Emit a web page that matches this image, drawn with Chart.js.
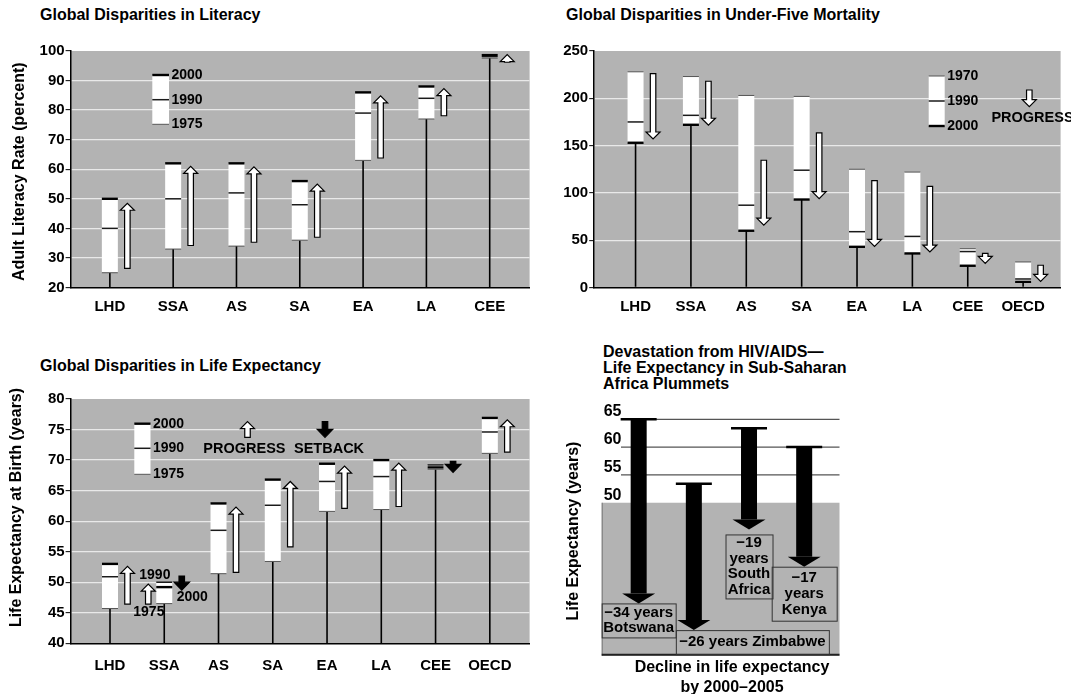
<!DOCTYPE html>
<html>
<head>
<meta charset="utf-8">
<script src="https://cdn.jsdelivr.net/npm/chart.js@4.4.1/dist/chart.umd.min.js"></script>
<style>
  html, body { margin:0; padding:0; background:#fff; }
  body { width:1071px; height:694px; position:relative; overflow:hidden; font-family:"Liberation Sans", Arial, sans-serif; }
  .pane { position:absolute; }
  .pane canvas { display:block; }
  .ttl { position:absolute; font-weight:bold; font-size:16px; line-height:16px; color:#000; white-space:nowrap; }
</style>
</head>
<body>
<div class="ttl" style="left:40px;top:7px">Global Disparities in Literacy</div>
<div class="ttl" style="left:566px;top:7px">Global Disparities in Under-Five Mortality</div>
<div class="ttl" style="left:40px;top:358px">Global Disparities in Life Expectancy</div>
<div class="ttl" style="left:603px;top:344px">Devastation from HIV/AIDS—<br>Life Expectancy in Sub-Saharan<br>Africa Plummets</div>

<div class="pane" id="p1" style="left:0px;top:40px;width:540px;height:280px"><canvas id="c1"></canvas></div>
<div class="pane" id="p2" style="left:540px;top:40px;width:531px;height:280px"><canvas id="c2"></canvas></div>
<div class="pane" id="p3" style="left:0px;top:385px;width:540px;height:309px"><canvas id="c3"></canvas></div>
<div class="pane" id="p4" style="left:560px;top:395px;width:300px;height:299px"><canvas id="c4"></canvas></div>

<script>
// ================= DATA =================
// Literacy (percent)
const litCategories = ['LHD', 'SSA', 'AS', 'SA', 'EA', 'LA', 'CEE'];
const lit1975 = [25, 33, 34, 36, 63, 77, 97.6];
const lit1990 = [40, 50, 52, 48, 79, 84, 98.1];
const lit2000 = [50, 62, 62, 56, 86, 88, 98.6];
const litArrowFrom = [26.5, 34.2, 35.3, 37, 63.8, 78.1, 96.2];
const litArrowTo   = [48.5, 61, 60.8, 55, 84.8, 87.3, 98.8];
const litTicks = [20, 30, 40, 50, 60, 70, 80, 90, 100];

// Under-five mortality (per 1,000)
const mortCategories = ['LHD', 'SSA', 'AS', 'SA', 'EA', 'LA', 'CEE', 'OECD'];
const mort1970 = [228, 223, 203, 202, 125, 122, 41, 27];
const mort1990 = [175, 182, 87, 124, 59, 54, 38, 9];
const mort2000 = [153, 172, 60, 93, 43, 36, 23, 6];
const mortArrowFrom = [226, 218, 134.5, 163.5, 113, 107, 36, 23.5];
const mortArrowTo   = [157, 171.5, 66, 94, 43.5, 37.5, 25.5, 6.5];
const mortTicks = [0, 50, 100, 150, 200, 250];

// Life expectancy at birth (years)
const lifeCategories = ['LHD', 'SSA', 'AS', 'SA', 'EA', 'LA', 'CEE', 'OECD'];
const life1975 = [45.7, 46.5, 51.4, 53.4, 61.6, 61.9, 68.5, 71.1];
const life1990 = [50.9, 50.0, 58.5, 62.6, 66.5, 67.3, 69.2, 74.6];
const life2000 = [53.0, 49.2, 62.9, 66.8, 69.4, 70.0, 68.8, 76.9];
const lifeArrowFrom = [46.4, 51.0, 51.6, 55.8, 62.1, 62.4, 69.8, 71.3];
const lifeArrowTo   = [52.6, 48.7, 62.3, 66.5, 69.0, 69.5, 68.0, 76.6];
const lifeExtraArrowCat  = ['SSA'];
const lifeExtraArrowFrom = [46.4];
const lifeExtraArrowTo   = [49.7];
const lifeTicks = [40, 45, 50, 55, 60, 65, 70, 75, 80];

// HIV/AIDS: life expectancy decline
const hivCountries = ['Botswana', 'Zimbabwe', 'South Africa', 'Kenya'];
const hivStart = [65, 53.4, 63.4, 60];
const hivEnd   = [31.9, 27.1, 45.2, 38.5];
const hivDecline = [34, 26, 19, 17];
const hivTicks = [50, 55, 60, 65];

// ================= STYLE / HELPERS =================
const FAM = '"Liberation Sans", Arial, sans-serif';
Chart.defaults.font.family = FAM;
Chart.defaults.font.weight = 'bold';
Chart.defaults.color = '#000';
Chart.defaults.animation = false;
Chart.defaults.events = [];
Chart.defaults.plugins.legend.display = false;
Chart.defaults.plugins.tooltip.enabled = false;

const GRAY = '#b3b3b3';
const GRID = '#e9e9e9';
const THIN = {c: '#555', w: 1};
const MID = {c: '#1a1a1a', w: 1.5};
const THICK = {c: '#000', w: 2.4};

function txt(ctx, s, x, y, size, align, rot) {
  ctx.save();
  ctx.font = 'bold ' + size + 'px ' + FAM;
  ctx.fillStyle = '#000';
  ctx.textAlign = align || 'left';
  ctx.textBaseline = 'middle';
  ctx.translate(x, y);
  if (rot) ctx.rotate(rot);
  ctx.fillText(s, 0, 0);
  ctx.restore();
}
function hline(ctx, x0, x1, y, st) {
  ctx.save(); ctx.strokeStyle = st.c; ctx.lineWidth = st.w;
  ctx.beginPath(); ctx.moveTo(x0, y); ctx.lineTo(x1, y); ctx.stroke(); ctx.restore();
}
function arrow(ctx, x, yFrom, yTo, fill, sw, hw, hl) {
  const dir = yTo < yFrom ? -1 : 1;
  const h = Math.min(hl, Math.abs(yTo - yFrom));
  const yb = yTo - dir * h;
  ctx.save();
  ctx.beginPath();
  ctx.moveTo(x - sw / 2, yFrom);
  ctx.lineTo(x - sw / 2, yb);
  ctx.lineTo(x - hw / 2, yb);
  ctx.lineTo(x, yTo);
  ctx.lineTo(x + hw / 2, yb);
  ctx.lineTo(x + sw / 2, yb);
  ctx.lineTo(x + sw / 2, yFrom);
  ctx.closePath();
  ctx.fillStyle = fill; ctx.fill();
  ctx.strokeStyle = '#000'; ctx.lineWidth = 1.2; ctx.lineJoin = 'miter'; ctx.stroke();
  ctx.restore();
}
function whiteArrow(ctx, x, y0, y1) { arrow(ctx, x, y0, y1, '#fff', 5.5, 14, 7); }
function blackArrow(ctx, x, y0, y1) { arrow(ctx, x, y0, y1, '#000', 5.5, 15.5, 8); }

function legendBox(ctx, x0, x1, items) {
  const ys = items.map(it => it.y);
  const top = Math.min(...ys), bot = Math.max(...ys);
  ctx.save(); ctx.fillStyle = '#fff'; ctx.fillRect(x0, top, x1 - x0, bot - top); ctx.restore();
  items.forEach(it => {
    hline(ctx, x0, x1, it.y, it.st);
    txt(ctx, it.label, x1 + 2.5, it.y, 14, 'left');
  });
}

function makeBoxChart(o) {
  const pane = document.getElementById(o.pane);
  const off = {x: pane.offsetLeft, y: pane.offsetTop};
  const lo = o.cats.map((c, i) => Math.min(o.a[i], o.b[i], o.c[i]));
  const hi = o.cats.map((c, i) => Math.max(o.a[i], o.b[i], o.c[i]));
  const pts = arr => o.cats.map((c, i) => ({x: i, y: arr[i]}));
  const yearLine = (arr, st, order) => ({
    type: 'scatter', data: pts(arr), pointStyle: 'line', pointRadius: 8,
    borderColor: st.c, backgroundColor: st.c, borderWidth: st.w, order: order, clip: false
  });
  const tickFont = {size: 15, weight: 'bold', family: FAM};
  return new Chart(document.getElementById(o.canvas), {
    type: 'bar',
    data: {
      datasets: [
        {type: 'bar', data: o.cats.map((c, i) => ({x: i, y: [o.yMin, lo[i]]})),
         backgroundColor: '#000', maxBarThickness: 1.6, grouped: false, order: 5},
        {type: 'bar', data: o.cats.map((c, i) => ({x: i, y: [lo[i], hi[i]]})),
         backgroundColor: '#fff', maxBarThickness: 16, grouped: false, order: 4},
        yearLine(o.a, THIN, 3),
        yearLine(o.b, MID, 2),
        yearLine(o.c, THICK, 1)
      ]
    },
    options: {
      responsive: true, maintainAspectRatio: false,
      layout: {padding: {top: o.padTop, left: 0, right: 0, bottom: 0}},
      scales: {
        x: {
          type: 'linear', min: o.xMin, max: o.xMax, offset: false,
          afterBuildTicks: s => { s.ticks = o.cats.map((c, i) => ({value: i})); },
          afterFit: s => { s.height = o.xH; },
          ticks: {callback: v => o.cats[v], font: tickFont, color: '#000', padding: o.xPad,
                  maxRotation: 0, autoSkip: false},
          grid: {display: false, drawTicks: false, offset: false},
          border: {display: true, color: '#000', width: 1.5}
        },
        y: {
          type: 'linear', min: o.yMin, max: o.yMax,
          afterBuildTicks: s => { s.ticks = o.ticks.map(v => ({value: v})); },
          afterFit: s => { s.width = o.yW; },
          ticks: {font: tickFont, color: '#000', padding: 1},
          grid: {
            color: c => (c.tick && (c.tick.value === o.yMax || c.tick.value === o.yMin)) ? 'rgba(0,0,0,0)' : GRID,
            lineWidth: 1.3, drawTicks: true, tickLength: 5, tickColor: '#000', tickWidth: 1
          },
          border: {display: true, color: '#000', width: 1.5}
        }
      }
    },
    plugins: [{
      id: 'deco_' + o.canvas,
      beforeDraw(chart) {
        const a = chart.chartArea, ctx = chart.ctx;
        ctx.save(); ctx.fillStyle = GRAY; ctx.fillRect(a.left, a.top, a.right - a.left, a.bottom - a.top); ctx.restore();
      },
      afterDatasetsDraw(chart) {
        const ctx = chart.ctx, xs = chart.scales.x, ys = chart.scales.y;
        o.cats.forEach((c, i) => {
          const x = xs.getPixelForValue(i) + 17.5;
          const y0 = ys.getPixelForValue(o.arrFrom[i]), y1 = ys.getPixelForValue(o.arrTo[i]);
          const good = (o.arrTo[i] > o.arrFrom[i]) === o.goodUp;
          if (good) whiteArrow(ctx, x, y0, y1); else blackArrow(ctx, x, y0, y1);
        });
        if (o.extraCats) {
          o.extraCats.forEach((c, k) => {
            const i = o.cats.indexOf(c);
            const x = xs.getPixelForValue(i) - 16;
            whiteArrow(ctx, x, ys.getPixelForValue(o.extraFrom[k]), ys.getPixelForValue(o.extraTo[k]));
          });
        }
      },
      afterDraw(chart) { o.extra(chart.ctx, off, chart); }
    }]
  });
}

// ================= PANEL 1: Literacy =================
makeBoxChart({
  pane: 'p1', canvas: 'c1', cats: litCategories, a: lit1975, b: lit1990, c: lit2000,
  arrFrom: litArrowFrom, arrTo: litArrowTo, goodUp: true,
  yMin: 20, yMax: 100, ticks: litTicks, xMin: -0.62, xMax: 6.63,
  yW: 70.6, padTop: 11, xH: 32.5, xPad: 10.2,
  extra(ctx, off) {
    const P = (x, y) => [x - off.x, y - off.y];
    legendBox(ctx, 152.3 - off.x, 169 - off.x, [
      {y: 75 - off.y, label: '2000', st: THICK},
      {y: 99.7 - off.y, label: '1990', st: MID},
      {y: 124.3 - off.y, label: '1975', st: THIN}
    ]);
    const t = P(19.6, 171.7);
    txt(ctx, 'Adult Literacy Rate (percent)', t[0], t[1], 16, 'center', -Math.PI / 2);
  }
});

// ================= PANEL 2: Under-five mortality =================
makeBoxChart({
  pane: 'p2', canvas: 'c2', cats: mortCategories, a: mort1970, b: mort1990, c: mort2000,
  arrFrom: mortArrowFrom, arrTo: mortArrowTo, goodUp: false,
  yMin: 0, yMax: 250, ticks: mortTicks, xMin: -0.747, xMax: 7.677,
  yW: 54.2, padTop: 11, xH: 32.5, xPad: 10.2,
  extra(ctx, off) {
    legendBox(ctx, 928.7 - off.x, 944.7 - off.x, [
      {y: 76 - off.y, label: '1970', st: THIN},
      {y: 101 - off.y, label: '1990', st: MID},
      {y: 126 - off.y, label: '2000', st: THICK}
    ]);
    txt(ctx, 'PROGRESS', 991.4 - off.x, 117.7 - off.y, 14.5, 'left');
    whiteArrow(ctx, 1029.3 - off.x, 90 - off.y, 106.7 - off.y);
  }
});

// ================= PANEL 3: Life expectancy =================
makeBoxChart({
  pane: 'p3', canvas: 'c3', cats: lifeCategories, a: life1975, b: life1990, c: life2000,
  arrFrom: lifeArrowFrom, arrTo: lifeArrowTo, goodUp: true,
  extraCats: lifeExtraArrowCat, extraFrom: lifeExtraArrowFrom, extraTo: lifeExtraArrowTo,
  yMin: 40, yMax: 80, ticks: lifeTicks, xMin: -0.726, xMax: 7.733,
  yW: 70.6, padTop: 14, xH: 50.7, xPad: 13.7,
  extra(ctx, off) {
    legendBox(ctx, 134.3 - off.x, 150.5 - off.x, [
      {y: 423.7 - off.y, label: '2000', st: THICK},
      {y: 448.3 - off.y, label: '1990', st: MID},
      {y: 474.3 - off.y, label: '1975', st: THIN}
    ]);
    txt(ctx, 'PROGRESS', 203.3 - off.x, 449 - off.y, 14.5, 'left');
    whiteArrow(ctx, 247.5 - off.x, 437.3 - off.y, 421.7 - off.y);
    txt(ctx, 'SETBACK', 294 - off.x, 449 - off.y, 14.5, 'left');
    blackArrow(ctx, 325 - off.x, 421.7 - off.y, 437.3 - off.y);
    txt(ctx, '1990', 139.3 - off.x, 575 - off.y, 14, 'left');
    txt(ctx, '2000', 176.7 - off.x, 596.7 - off.y, 14, 'left');
    txt(ctx, '1975', 133.3 - off.x, 612.3 - off.y, 14, 'left');
    txt(ctx, 'Life Expectancy at Birth (years)', 16.4 - off.x, 507.5 - off.y, 16, 'center', -Math.PI / 2);
  }
});

// ================= PANEL 4: HIV/AIDS =================
(function () {
  const pane = document.getElementById('p4');
  const off = {x: pane.offsetLeft, y: pane.offsetTop};
  const labelLines = [
    ['\u2212' + hivDecline[0] + ' years', hivCountries[0]],
    ['\u2212' + hivDecline[1] + ' years ' + hivCountries[1]],
    ['\u2212' + hivDecline[2], 'years', 'South', 'Africa'],
    ['\u2212' + hivDecline[3], 'years', hivCountries[3]]
  ];
  // label box layout (px): width, height, gap below tip, horizontal anchor
  const boxW = [74, 153, 47, 65];
  const boxH = [34, 24, 64, 54];
  const boxGap = [0, 0, 5, 0];
  const boxLeftAnchor = [false, true, false, false];

  new Chart(document.getElementById('c4'), {
    type: 'scatter',
    data: {
      datasets: [{
        data: hivCountries.map((c, i) => ({x: i, y: hivStart[i]})),
        pointStyle: 'line', pointRadius: 18, borderColor: '#000', backgroundColor: '#000',
        borderWidth: 2.5, clip: false
      }]
    },
    options: {
      responsive: true, maintainAspectRatio: false,
      layout: {padding: {top: 24.3, left: 0, right: 15, bottom: 0}},
      scales: {
        x: {
          type: 'linear', min: -0.67, max: 3.64,
          afterFit: s => { s.height = 38.3; },
          ticks: {display: false},
          grid: {display: false, drawTicks: false},
          border: {display: false}
        },
        y: {
          type: 'linear', min: 22.5, max: 65,
          afterBuildTicks: s => { s.ticks = hivTicks.map(v => ({value: v})); },
          afterFit: s => { s.width = 41.7; },
          ticks: {mirror: true, crossAlign: 'near', padding: 2, labelOffset: -7.5,
                  font: {size: 16, weight: 'bold', family: FAM}, color: '#000'},
          grid: {display: false, drawTicks: false},
          border: {display: false}
        }
      }
    },
    plugins: [{
      id: 'hiv',
      beforeDraw(chart) {
        const ctx = chart.ctx, a = chart.chartArea, ys = chart.scales.y;
        const y50 = ys.getPixelForValue(50);
        ctx.save();
        ctx.fillStyle = GRAY;
        ctx.fillRect(a.left, y50, a.right - a.left, a.bottom - y50);
        ctx.strokeStyle = '#555'; ctx.lineWidth = 1.3;
        [55, 60, 65].forEach(v => {
          const y = ys.getPixelForValue(v);
          ctx.beginPath(); ctx.moveTo(a.left + 19.3, y); ctx.lineTo(a.right, y); ctx.stroke();
        });
        ctx.strokeStyle = '#777'; ctx.lineWidth = 1;
        ctx.beginPath(); ctx.moveTo(a.left + 0.5, y50); ctx.lineTo(a.left + 0.5, a.bottom); ctx.stroke();
        ctx.strokeStyle = '#222'; ctx.lineWidth = 2;
        ctx.beginPath(); ctx.moveTo(a.left, a.bottom - 1); ctx.lineTo(a.right, a.bottom - 1); ctx.stroke();
        ctx.restore();
      },
      afterDatasetsDraw(chart) {
        const ctx = chart.ctx, xs = chart.scales.x, ys = chart.scales.y;
        hivCountries.forEach((c, i) => {
          const x = xs.getPixelForValue(i);
          const y0 = ys.getPixelForValue(hivStart[i]);
          const y1 = ys.getPixelForValue(hivEnd[i]);
          const hl = 10;
          ctx.save();
          ctx.fillStyle = '#000';
          ctx.fillRect(x - 8, y0, 16, (y1 - hl) - y0);
          ctx.beginPath();
          ctx.moveTo(x - 16.5, y1 - hl); ctx.lineTo(x + 16.5, y1 - hl); ctx.lineTo(x, y1); ctx.closePath();
          ctx.fill();
          ctx.restore();
          // label box
          const w = boxW[i], h = boxH[i];
          const top = y1 + boxGap[i];
          const left = boxLeftAnchor[i] ? x - 18 : x - w / 2;
          ctx.save();
          ctx.strokeStyle = '#333'; ctx.lineWidth = 1;
          ctx.strokeRect(left + 0.5, top + 0.5, w, h);
          ctx.restore();
          const lines = labelLines[i];
          const lh = 15.7;
          const cx = left + w / 2;
          const startY = top + (h - lines.length * lh) / 2 + lh / 2;
          lines.forEach((s, k) => txt(ctx, s, cx, startY + k * lh, 15, 'center'));
        });
      },
      afterDraw(chart) {
        const ctx = chart.ctx;
        txt(ctx, 'Life Expectancy (years)', 574 - off.x, 531 - off.y, 16, 'center', -Math.PI / 2);
        txt(ctx, 'Decline in life expectancy', 732 - off.x, 667.7 - off.y, 16, 'center');
        txt(ctx, 'by 2000\u20132005', 732 - off.x, 687.3 - off.y, 16, 'center');
      }
    }]
  });
})();
</script>
</body>
</html>
